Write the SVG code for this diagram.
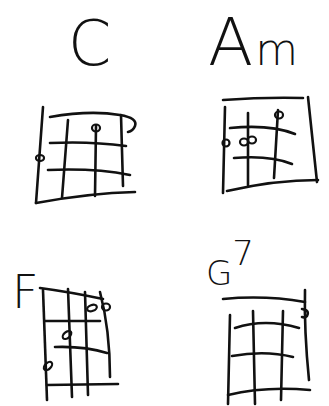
<svg xmlns="http://www.w3.org/2000/svg" width="329" height="406" viewBox="0 0 329 406">
<style>
.s{fill:none;stroke:#111;stroke-width:2.6;stroke-linecap:round;stroke-linejoin:round}
.d{fill:none;stroke:#111;stroke-width:2.2}
.t{font-family:"DejaVu Sans","Liberation Sans",sans-serif;font-weight:200;fill:#111}
</style>
<rect width="329" height="406" fill="#fff"/>
<g id="chord-C">
<text class="t" x="68" y="65" font-size="62">C</text>
<path class="s" d="M43,107 L36,203"/>
<path class="s" d="M50,117 Q90,110 120,115 Q138,118 135,126 Q133,131 128,132"/>
<path class="s" d="M121,115 L123,186"/>
<path class="s" d="M68,120 L62,198"/>
<path class="s" d="M96,126 L95,196"/>
<path class="s" d="M50,143 Q90,141 126,146"/>
<path class="s" d="M48,170 Q95,168 130,175"/>
<path class="s" d="M36,203 Q90,193 135,192"/>
<ellipse class="d" cx="96" cy="128" rx="4" ry="3.5"/>
<ellipse class="d" cx="40" cy="158" rx="4" ry="3"/>
</g>
<g id="chord-Am">
<text class="t" x="208" y="65" font-size="66">A<tspan font-size="44" dx="2">m</tspan></text>
<path class="s" d="M223,100 Q265,97 303,98"/>
<path class="s" d="M308,97 L317,182"/>
<path class="s" d="M225,107 L223,193"/>
<path class="s" d="M248,113 L248,185"/>
<path class="s" d="M278,110 L274,178"/>
<path class="s" d="M230,128 Q270,124 295,134"/>
<path class="s" d="M234,158 Q270,155 292,164"/>
<path class="s" d="M227,191 Q275,180 318,180"/>
<ellipse class="d" cx="279" cy="115" rx="4" ry="3.5"/>
<ellipse class="d" cx="226" cy="143" rx="3.5" ry="3.5"/>
<ellipse class="d" cx="244" cy="142" rx="4" ry="3.5"/>
<ellipse class="d" cx="252" cy="140" rx="4" ry="3.5"/>
</g>
<g id="chord-F">
<text class="t" x="12" y="308" font-size="46">F</text>
<path class="s" d="M40,288 Q70,292 103,299"/>
<path class="s" d="M43,290 L47,400"/>
<path class="s" d="M68,289 L72,397"/>
<path class="s" d="M85,292 L88,395"/>
<path class="s" d="M100,292 Q110,330 110,377"/>
<path class="s" d="M45,321 L100,321"/>
<path class="s" d="M55,347 Q85,346 107,353"/>
<path class="s" d="M47,385 L118,384"/>
<ellipse class="d" cx="92" cy="308" rx="5" ry="3" transform="rotate(-20 92 308)"/>
<ellipse class="d" cx="106" cy="307" rx="4" ry="3.5"/>
<ellipse class="d" cx="67" cy="335" rx="5" ry="3" transform="rotate(-40 67 335)"/>
<ellipse class="d" cx="48" cy="366" rx="5" ry="3" transform="rotate(-45 48 366)"/>
</g>
<g id="chord-G7">
<text class="t" x="206" y="285" font-size="34">G<tspan font-size="34" dy="-20">7</tspan></text>
<path class="s" d="M223,299 Q265,295 305,302"/>
<path class="s" d="M305,290 Q304,330 309,380"/>
<path class="s" d="M302,309 Q310,310 307,316 Q305,318 302,317"/>
<path class="s" d="M230,315 L228,404"/>
<path class="s" d="M253,311 L255,404"/>
<path class="s" d="M283,311 L281,400"/>
<path class="s" d="M235,328 Q265,318 299,328"/>
<path class="s" d="M232,356 Q265,350 293,357"/>
<path class="s" d="M228,395 Q265,386 310,390"/>
</g>
</svg>
